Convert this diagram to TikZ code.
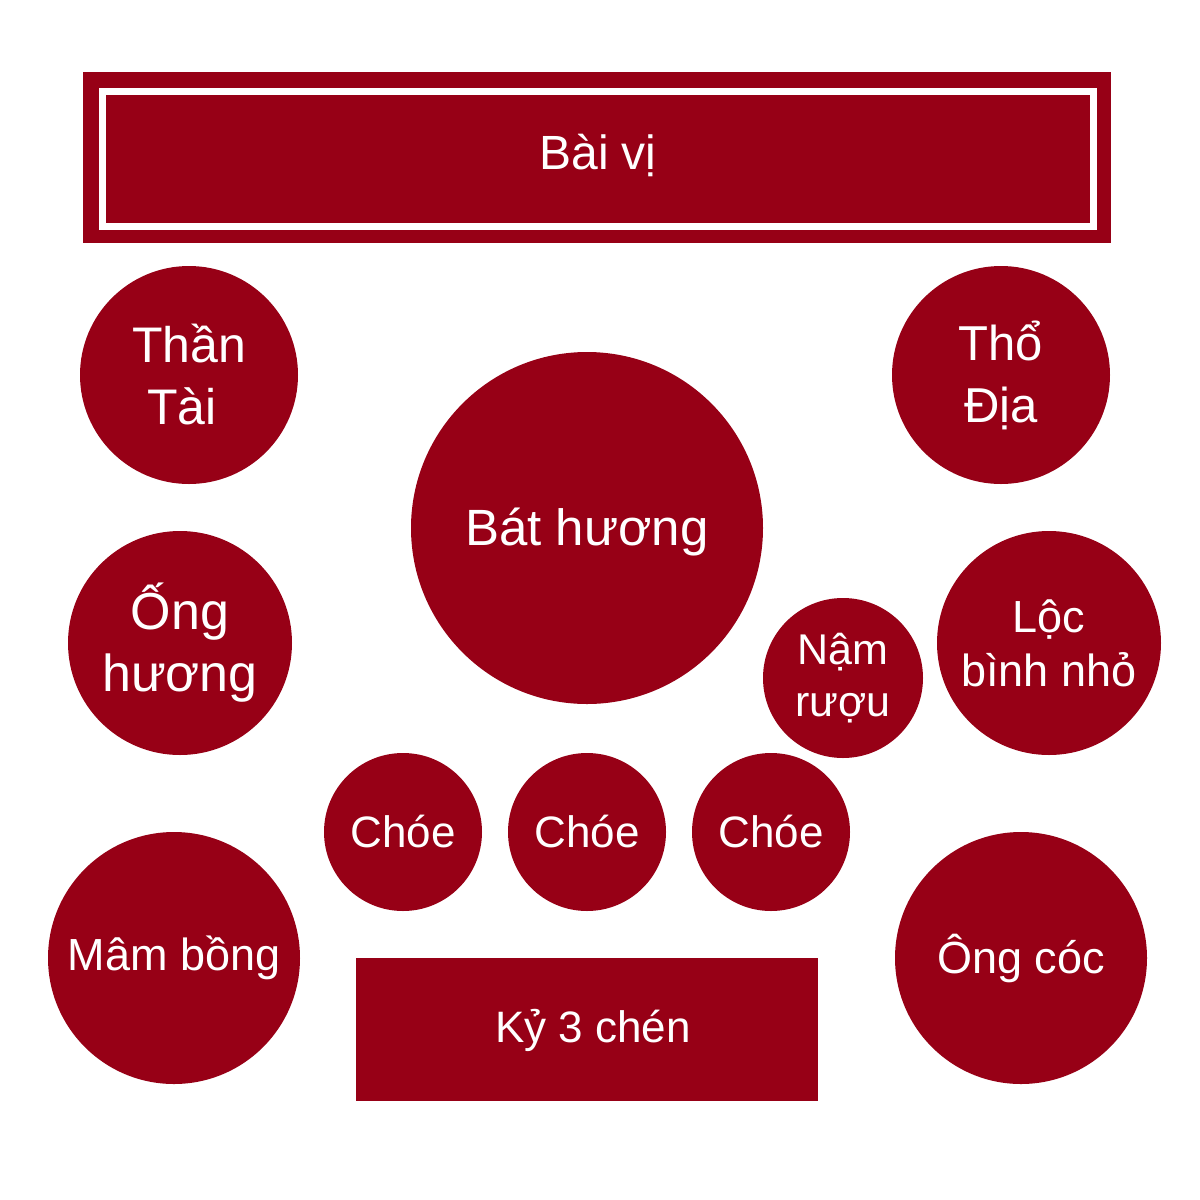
\documentclass[tikz,border=0pt]{standalone}
\usepackage{fontspec}
\setmainfont{Liberation Sans}
\definecolor{altar}{RGB}{151,0,22}
\newcommand\fsz[2]{\fontsize{#1}{#2}\selectfont}
\tikzset{
  disc/.style={circle, fill=altar, text=white, inner sep=0pt, align=center, minimum size=#1},
  slab/.style={rectangle, fill=altar, text=white, inner sep=0pt, align=center},
  frame/.style={rectangle, draw=white, line width=7pt, inner sep=0pt},
  label/.style={text=white, inner sep=0pt, align=center}
}
\begin{document}
\begin{tikzpicture}[x=1pt,y=-1pt]
\useasboundingbox (0,0) rectangle (1200,1200);
\fill[white] (0,0) rectangle (1200,1200);
% banner
\node[slab, minimum width=1028pt, minimum height=171pt] (banner) at (597,157.5) {};
\node[frame, minimum width=991pt, minimum height=135.5pt] (bannerframe) at (597.5,158.75) {};
\node[label, font=\fsz{48}{56}] (baivi) at (598,155) {Bài vị};
% circles
\node[disc=218pt, font=\fsz{50}{62}] (thantai) at (189,375) {Thần\\Tài\hspace*{0.28em}};
\node[disc=218pt, font=\fsz{49}{62}] (thodia) at (1001,375) {Thổ\\Địa};
\node[disc=352pt, font=\fsz{51}{60}] (bathuong) at (587,528) {\raisebox{-4pt}[\height][\depth]{Bát hương}};
\node[disc=224pt, font=\fsz{52}{62}] (onghuong) at (180,643) {Ống\\hương};
\node[disc=224pt, font=\fsz{45}{54}] (locbinh) at (1049,643) {Lộc\\bình nhỏ};
\node[disc=160pt, font=\fsz{43}{52}] (namruou) at (843,678) {Nậm\\rượu};
\node[disc=158pt, font=\fsz{44}{52}] (choe1) at (403,832) {Chóe};
\node[disc=158pt, font=\fsz{44}{52}] (choe2) at (587,832) {Chóe};
\node[disc=158pt, font=\fsz{44}{52}] (choe3) at (771,832) {Chóe};
\node[disc=252pt, font=\fsz{45}{54}] (mambong) at (174,958) {Mâm bồng};
\node[disc=252pt, font=\fsz{45}{54}] (ongcoc) at (1021,958) {Ông cóc};
% table
\node[slab, minimum width=462pt, minimum height=143pt] (ky) at (587,1029.5) {};
\node[label, font=\fsz{44}{52}] (kytext) at (593,1030) {Kỷ 3 chén};
\end{tikzpicture}
\end{document}
